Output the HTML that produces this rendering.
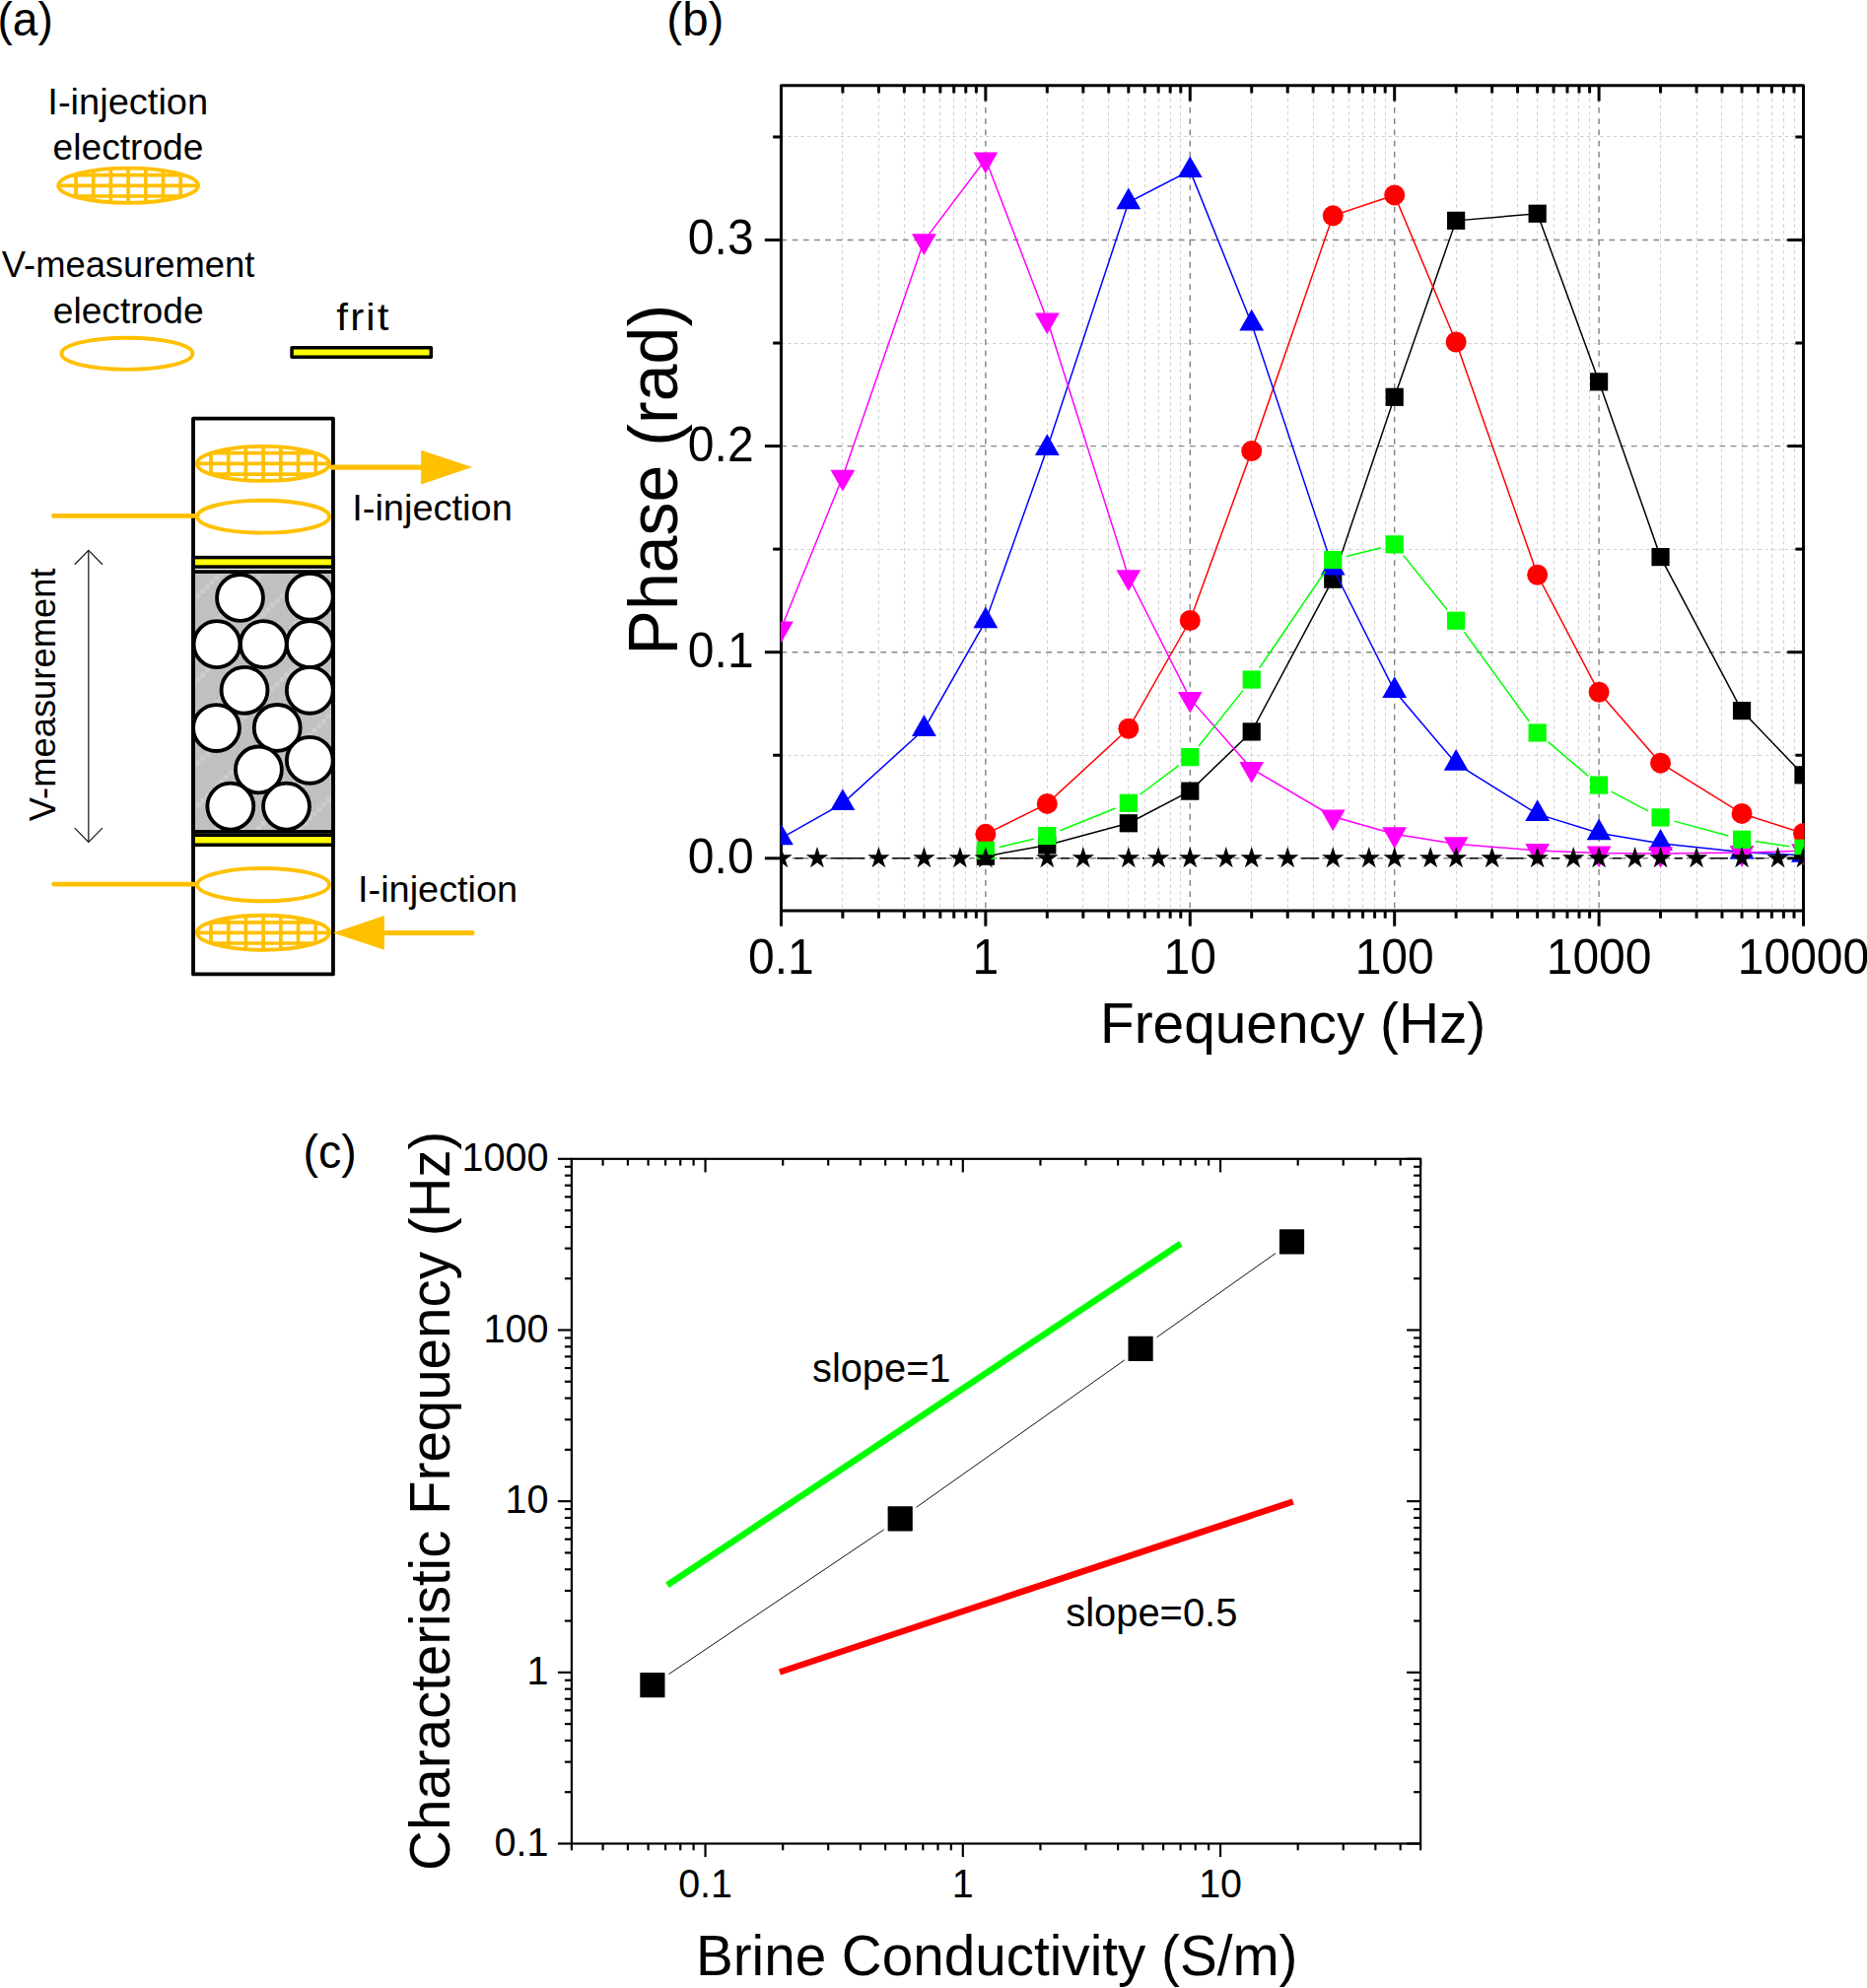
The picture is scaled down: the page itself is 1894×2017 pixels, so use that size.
<!DOCTYPE html>
<html lang="en"><head><meta charset="utf-8"><title>Figure</title>
<style>html,body{margin:0;padding:0;background:#fff}body{width:1894px;height:2017px;overflow:hidden}svg{display:block}</style>
</head><body>
<svg width="1894" height="2017" viewBox="0 0 1894 2017" font-family='"Liberation Sans", Arial, sans-serif'>
<defs>
<pattern id="gp" width="42.4" height="42.4" patternUnits="userSpaceOnUse" x="198.8" y="564.5"><rect width="42.4" height="42.4" fill="#c0c0c0"/><rect x="0" y="37.69" width="4.71" height="4.71" fill="#cdcdcd"/><rect x="4.71" y="32.98" width="4.71" height="4.71" fill="#cdcdcd"/><rect x="9.42" y="28.27" width="4.71" height="4.71" fill="#cdcdcd"/><rect x="14.13" y="23.56" width="4.71" height="4.71" fill="#cdcdcd"/><rect x="18.84" y="18.84" width="4.71" height="4.71" fill="#cdcdcd"/><rect x="23.56" y="14.13" width="4.71" height="4.71" fill="#cdcdcd"/><rect x="28.27" y="9.42" width="4.71" height="4.71" fill="#cdcdcd"/><rect x="32.98" y="4.71" width="4.71" height="4.71" fill="#cdcdcd"/><rect x="37.69" y="0" width="4.71" height="4.71" fill="#cdcdcd"/></pattern>
<clipPath id="cb"><rect x="791.9" y="85.7" width="1038.6" height="839.2"/></clipPath>
</defs>
<rect width="1894" height="2017" fill="#fff"/>
<g id="panel-a">
<text x="-2.58" y="36.4" font-size="47.5" textLength="56.33" lengthAdjust="spacingAndGlyphs" fill="#000">(a)</text>
<text x="48.38" y="116.2" font-size="36" textLength="162.79" lengthAdjust="spacingAndGlyphs" fill="#000">I-injection</text>
<text x="53.62" y="162" font-size="36" textLength="152.81" lengthAdjust="spacingAndGlyphs" fill="#000">electrode</text>
<text x="1.82" y="281.2" font-size="36" textLength="256.5" lengthAdjust="spacingAndGlyphs" fill="#000">V-measurement</text>
<text x="53.72" y="328" font-size="36" textLength="152.91" lengthAdjust="spacingAndGlyphs" fill="#000">electrode</text>
<text x="341.37" y="335" font-size="39" letter-spacing="2" textLength="55.34" lengthAdjust="spacingAndGlyphs" fill="#000">frit</text>
<text x="357.19" y="528.2" font-size="36" textLength="162.59" lengthAdjust="spacingAndGlyphs" fill="#000">I-injection</text>
<text x="363" y="915" font-size="36" textLength="162.17" lengthAdjust="spacingAndGlyphs" fill="#000">I-injection</text>
<text transform="translate(56 833) rotate(-90)" x="-0.18" y="0" font-size="36" textLength="256.7" lengthAdjust="spacingAndGlyphs" fill="#000">V-measurement</text>
<clipPath id="cg0"><ellipse cx="130.15" cy="188.25" rx="70.9" ry="17.6"/></clipPath>
<g clip-path="url(#cg0)" stroke="#ffc000" stroke-width="3.7"><line x1="77" y1="168.65" x2="77" y2="207.85"/><line x1="94.7" y1="168.65" x2="94.7" y2="207.85"/><line x1="112.4" y1="168.65" x2="112.4" y2="207.85"/><line x1="130.1" y1="168.65" x2="130.1" y2="207.85"/><line x1="147.8" y1="168.65" x2="147.8" y2="207.85"/><line x1="165.5" y1="168.65" x2="165.5" y2="207.85"/><line x1="183.2" y1="168.65" x2="183.2" y2="207.85"/><line x1="57.25" y1="177.6" x2="203.05" y2="177.6"/><line x1="57.25" y1="188.3" x2="203.05" y2="188.3"/><line x1="57.25" y1="199" x2="203.05" y2="199"/></g>
<ellipse cx="130.15" cy="188.25" rx="70.9" ry="17.6" fill="none" stroke="#ffc000" stroke-width="3.9"/>
<ellipse cx="128.9" cy="358.8" rx="66.5" ry="16.1" fill="none" stroke="#ffc000" stroke-width="3.9"/>
<rect x="296.05" y="352.65" width="141.3" height="9.6" fill="#ffff00" stroke="#000" stroke-width="3.5" stroke-linejoin="round"/>
<rect x="196.0" y="580.05" width="141.95" height="263.85" fill="url(#gp)" stroke="#000" stroke-width="3.7"/>
<circle cx="243.5" cy="606.4" r="23.45" fill="#fff" stroke="#000" stroke-width="3.85"/>
<circle cx="314.3" cy="605.2" r="23.45" fill="#fff" stroke="#000" stroke-width="3.85"/>
<circle cx="220" cy="653.6" r="23.45" fill="#fff" stroke="#000" stroke-width="3.85"/>
<circle cx="267.3" cy="653.6" r="23.45" fill="#fff" stroke="#000" stroke-width="3.85"/>
<circle cx="314.3" cy="653.6" r="23.45" fill="#fff" stroke="#000" stroke-width="3.85"/>
<circle cx="248" cy="700.3" r="23.45" fill="#fff" stroke="#000" stroke-width="3.85"/>
<circle cx="314.3" cy="700.3" r="23.45" fill="#fff" stroke="#000" stroke-width="3.85"/>
<circle cx="219.5" cy="738.5" r="23.45" fill="#fff" stroke="#000" stroke-width="3.85"/>
<circle cx="281.2" cy="738.4" r="23.45" fill="#fff" stroke="#000" stroke-width="3.85"/>
<circle cx="262.4" cy="780.9" r="23.45" fill="#fff" stroke="#000" stroke-width="3.85"/>
<circle cx="314.3" cy="771.3" r="23.45" fill="#fff" stroke="#000" stroke-width="3.85"/>
<circle cx="233.8" cy="818.1" r="23.45" fill="#fff" stroke="#000" stroke-width="3.85"/>
<circle cx="290.5" cy="818.1" r="23.45" fill="#fff" stroke="#000" stroke-width="3.85"/>
<rect x="196.0" y="565.6" width="141.95" height="9.5" fill="#ffff00" stroke="#000" stroke-width="3.5"/>
<rect x="196.0" y="847.3" width="141.95" height="9.9" fill="#ffff00" stroke="#000" stroke-width="3.5"/>
<rect x="196.0" y="424.6" width="141.95" height="563.85" fill="none" stroke="#000" stroke-width="3.8" stroke-linejoin="round"/>
<clipPath id="cg1"><ellipse cx="267" cy="470.4" rx="67.1" ry="17.5"/></clipPath>
<g clip-path="url(#cg1)" stroke="#ffc000" stroke-width="3.7"><line x1="214" y1="450.9" x2="214" y2="489.9"/><line x1="231.7" y1="450.9" x2="231.7" y2="489.9"/><line x1="249.4" y1="450.9" x2="249.4" y2="489.9"/><line x1="267.1" y1="450.9" x2="267.1" y2="489.9"/><line x1="284.8" y1="450.9" x2="284.8" y2="489.9"/><line x1="302.5" y1="450.9" x2="302.5" y2="489.9"/><line x1="320.2" y1="450.9" x2="320.2" y2="489.9"/><line x1="197.9" y1="459.7" x2="336.1" y2="459.7"/><line x1="197.9" y1="470.4" x2="336.1" y2="470.4"/><line x1="197.9" y1="481.1" x2="336.1" y2="481.1"/></g>
<ellipse cx="267" cy="470.4" rx="67.1" ry="17.5" fill="none" stroke="#ffc000" stroke-width="3.9"/>
<ellipse cx="267.1" cy="524.15" rx="67" ry="16.45" fill="none" stroke="#ffc000" stroke-width="3.9"/>
<ellipse cx="267.1" cy="897.6" rx="67" ry="16.65" fill="none" stroke="#ffc000" stroke-width="3.9"/>
<clipPath id="cg2"><ellipse cx="267" cy="946.3" rx="67.1" ry="17.5"/></clipPath>
<g clip-path="url(#cg2)" stroke="#ffc000" stroke-width="3.7"><line x1="214" y1="926.8" x2="214" y2="965.8"/><line x1="231.7" y1="926.8" x2="231.7" y2="965.8"/><line x1="249.4" y1="926.8" x2="249.4" y2="965.8"/><line x1="267.1" y1="926.8" x2="267.1" y2="965.8"/><line x1="284.8" y1="926.8" x2="284.8" y2="965.8"/><line x1="302.5" y1="926.8" x2="302.5" y2="965.8"/><line x1="320.2" y1="926.8" x2="320.2" y2="965.8"/><line x1="197.9" y1="935.8" x2="336.1" y2="935.8"/><line x1="197.9" y1="946.3" x2="336.1" y2="946.3"/><line x1="197.9" y1="957" x2="336.1" y2="957"/></g>
<ellipse cx="267" cy="946.3" rx="67.1" ry="17.5" fill="none" stroke="#ffc000" stroke-width="3.9"/>
<line x1="54.5" y1="523.4" x2="200" y2="523.4" stroke="#ffc000" stroke-width="4.8" stroke-linecap="round"/>
<line x1="54.5" y1="897.1" x2="200" y2="897.1" stroke="#ffc000" stroke-width="4.8" stroke-linecap="round"/>
<line x1="337" y1="474.1" x2="430" y2="474.1" stroke="#ffc000" stroke-width="5.1" stroke-linecap="round"/>
<polygon points="427.1,456.7 479.1,474.1 427.1,491.4" fill="#ffc000"/>
<line x1="388" y1="946.5" x2="479" y2="946.5" stroke="#ffc000" stroke-width="5.1" stroke-linecap="round"/>
<polygon points="389.9,929.1 337.9,946.4 389.9,963.7" fill="#ffc000"/>
<g stroke="#1a1a1a" stroke-width="1.25" fill="none"><line x1="89.8" y1="558.6" x2="89.8" y2="854.2"/><polyline points="75.8,572.7 89.8,558.4 103.9,572.7"/><polyline points="75.8,840.1 89.8,854.4 103.9,840.1"/></g>
</g>
<g id="panel-b">
<text x="676.33" y="36.4" font-size="47.5" textLength="58" lengthAdjust="spacingAndGlyphs" fill="#000">(b)</text>
<g fill="none" stroke="#d0d0d0" stroke-width="1" stroke-dasharray="3.4 3.3"><line x1="854.5" y1="86.67" x2="854.5" y2="923.9"/><line x1="891.5" y1="86.67" x2="891.5" y2="923.9"/><line x1="917.5" y1="86.67" x2="917.5" y2="923.9"/><line x1="937.5" y1="86.67" x2="937.5" y2="923.9"/><line x1="953.5" y1="86.67" x2="953.5" y2="923.9"/><line x1="967.5" y1="86.67" x2="967.5" y2="923.9"/><line x1="979.5" y1="86.67" x2="979.5" y2="923.9"/><line x1="990.5" y1="86.67" x2="990.5" y2="923.9"/><line x1="1062.5" y1="86.67" x2="1062.5" y2="923.9"/><line x1="1098.5" y1="86.67" x2="1098.5" y2="923.9"/><line x1="1124.5" y1="86.67" x2="1124.5" y2="923.9"/><line x1="1144.5" y1="86.67" x2="1144.5" y2="923.9"/><line x1="1161.5" y1="86.67" x2="1161.5" y2="923.9"/><line x1="1175.5" y1="86.67" x2="1175.5" y2="923.9"/><line x1="1187.5" y1="86.67" x2="1187.5" y2="923.9"/><line x1="1197.5" y1="86.67" x2="1197.5" y2="923.9"/><line x1="1269.5" y1="86.67" x2="1269.5" y2="923.9"/><line x1="1306.5" y1="86.67" x2="1306.5" y2="923.9"/><line x1="1332.5" y1="86.67" x2="1332.5" y2="923.9"/><line x1="1352.5" y1="86.67" x2="1352.5" y2="923.9"/><line x1="1368.5" y1="86.67" x2="1368.5" y2="923.9"/><line x1="1382.5" y1="86.67" x2="1382.5" y2="923.9"/><line x1="1394.5" y1="86.67" x2="1394.5" y2="923.9"/><line x1="1405.5" y1="86.67" x2="1405.5" y2="923.9"/><line x1="1477.5" y1="86.67" x2="1477.5" y2="923.9"/><line x1="1513.5" y1="86.67" x2="1513.5" y2="923.9"/><line x1="1539.5" y1="86.67" x2="1539.5" y2="923.9"/><line x1="1559.5" y1="86.67" x2="1559.5" y2="923.9"/><line x1="1576.5" y1="86.67" x2="1576.5" y2="923.9"/><line x1="1589.5" y1="86.67" x2="1589.5" y2="923.9"/><line x1="1601.5" y1="86.67" x2="1601.5" y2="923.9"/><line x1="1612.5" y1="86.67" x2="1612.5" y2="923.9"/><line x1="1684.5" y1="86.67" x2="1684.5" y2="923.9"/><line x1="1721.5" y1="86.67" x2="1721.5" y2="923.9"/><line x1="1746.5" y1="86.67" x2="1746.5" y2="923.9"/><line x1="1767.5" y1="86.67" x2="1767.5" y2="923.9"/><line x1="1783.5" y1="86.67" x2="1783.5" y2="923.9"/><line x1="1797.5" y1="86.67" x2="1797.5" y2="923.9"/><line x1="1809.5" y1="86.67" x2="1809.5" y2="923.9"/><line x1="1820.5" y1="86.67" x2="1820.5" y2="923.9"/><line x1="792.45" y1="138.5" x2="1829.5" y2="138.5"/><line x1="792.45" y1="348.5" x2="1829.5" y2="348.5"/><line x1="792.45" y1="557.5" x2="1829.5" y2="557.5"/><line x1="792.45" y1="766.5" x2="1829.5" y2="766.5"/></g>
<g fill="none" stroke="#868686" stroke-width="1.45" stroke-dasharray="5.8 5.4"><line x1="999.86" y1="86.67" x2="999.86" y2="923.9"/><line x1="1207.27" y1="86.67" x2="1207.27" y2="923.9"/><line x1="1414.68" y1="86.67" x2="1414.68" y2="923.9"/><line x1="1622.09" y1="86.67" x2="1622.09" y2="923.9"/><line x1="792.45" y1="243.5" x2="1829.5" y2="243.5"/><line x1="792.45" y1="452.6" x2="1829.5" y2="452.6"/><line x1="792.45" y1="661.7" x2="1829.5" y2="661.7"/><line x1="792.45" y1="870.8" x2="1829.5" y2="870.8"/></g>
<rect x="792.45" y="86.67" width="1037.05" height="837.23" fill="none" stroke="#000" stroke-width="3" stroke-linejoin="round"/>
<g clip-path="url(#cb)">
<polyline points="999.86,868.71 1062.3,857.42 1144.83,835.25 1207.27,802.63 1269.71,742.41 1352.24,587.68 1414.68,402.83 1477.12,223.84 1559.65,216.74 1622.09,387.36 1684.53,565.1 1767.06,721.08 1829.5,786.32" fill="none" stroke="#000000" stroke-width="1.5"/>
<rect x="990.76" y="859.61" width="18.2" height="18.2" fill="#000000"/><rect x="1053.2" y="848.32" width="18.2" height="18.2" fill="#000000"/><rect x="1135.73" y="826.15" width="18.2" height="18.2" fill="#000000"/><rect x="1198.17" y="793.53" width="18.2" height="18.2" fill="#000000"/><rect x="1260.61" y="733.31" width="18.2" height="18.2" fill="#000000"/><rect x="1343.14" y="578.58" width="18.2" height="18.2" fill="#000000"/><rect x="1405.58" y="393.73" width="18.2" height="18.2" fill="#000000"/><rect x="1468.02" y="214.74" width="18.2" height="18.2" fill="#000000"/><rect x="1550.55" y="207.64" width="18.2" height="18.2" fill="#000000"/><rect x="1612.99" y="378.26" width="18.2" height="18.2" fill="#000000"/><rect x="1675.43" y="556" width="18.2" height="18.2" fill="#000000"/><rect x="1757.96" y="711.98" width="18.2" height="18.2" fill="#000000"/><rect x="1820.4" y="777.22" width="18.2" height="18.2" fill="#000000"/>
<polyline points="999.86,846.34 1062.3,815.39 1144.83,739.28 1207.27,629.5 1269.71,457.62 1352.24,218.83 1414.68,197.92 1477.12,347 1559.65,583.29 1622.09,702.27 1684.53,774.2 1767.06,825.43 1829.5,845.5" fill="none" stroke="#ff0000" stroke-width="1.5"/>
<circle cx="999.86" cy="846.34" r="10.5" fill="#ff0000"/><circle cx="1062.3" cy="815.39" r="10.5" fill="#ff0000"/><circle cx="1144.83" cy="739.28" r="10.5" fill="#ff0000"/><circle cx="1207.27" cy="629.5" r="10.5" fill="#ff0000"/><circle cx="1269.71" cy="457.62" r="10.5" fill="#ff0000"/><circle cx="1352.24" cy="218.83" r="10.5" fill="#ff0000"/><circle cx="1414.68" cy="197.92" r="10.5" fill="#ff0000"/><circle cx="1477.12" cy="347" r="10.5" fill="#ff0000"/><circle cx="1559.65" cy="583.29" r="10.5" fill="#ff0000"/><circle cx="1622.09" cy="702.27" r="10.5" fill="#ff0000"/><circle cx="1684.53" cy="774.2" r="10.5" fill="#ff0000"/><circle cx="1767.06" cy="825.43" r="10.5" fill="#ff0000"/><circle cx="1829.5" cy="845.5" r="10.5" fill="#ff0000"/>
<polyline points="792.45,850.4 854.89,815.06 937.42,739.99 999.86,630.21 1062.3,454.99 1144.83,205.32 1207.27,173.12 1269.71,328.48 1352.24,576.47 1414.68,701.1 1477.12,774.7 1559.65,825.93 1622.09,845.17 1684.53,855.83 1767.06,864.61 1829.5,867.75" fill="none" stroke="#0000ff" stroke-width="1.5"/>
<polygon points="780.05,857.36 804.85,857.36 792.45,835.66" fill="#0000ff"/><polygon points="842.49,822.02 867.29,822.02 854.89,800.32" fill="#0000ff"/><polygon points="925.02,746.96 949.82,746.96 937.42,725.26" fill="#0000ff"/><polygon points="987.46,637.18 1012.26,637.18 999.86,615.48" fill="#0000ff"/><polygon points="1049.9,461.95 1074.7,461.95 1062.3,440.25" fill="#0000ff"/><polygon points="1132.43,212.29 1157.23,212.29 1144.83,190.59" fill="#0000ff"/><polygon points="1194.87,180.09 1219.67,180.09 1207.27,158.39" fill="#0000ff"/><polygon points="1257.31,335.45 1282.11,335.45 1269.71,313.75" fill="#0000ff"/><polygon points="1339.84,583.44 1364.64,583.44 1352.24,561.74" fill="#0000ff"/><polygon points="1402.28,708.07 1427.08,708.07 1414.68,686.37" fill="#0000ff"/><polygon points="1464.72,781.67 1489.52,781.67 1477.12,759.97" fill="#0000ff"/><polygon points="1547.25,832.9 1572.05,832.9 1559.65,811.2" fill="#0000ff"/><polygon points="1609.69,852.14 1634.49,852.14 1622.09,830.44" fill="#0000ff"/><polygon points="1672.13,862.8 1696.93,862.8 1684.53,841.1" fill="#0000ff"/><polygon points="1754.66,871.58 1779.46,871.58 1767.06,849.88" fill="#0000ff"/><polygon points="1817.1,874.72 1841.9,874.72 1829.5,853.02" fill="#0000ff"/>
<polyline points="792.45,637.57 854.89,483.67 937.42,244.25 999.86,161.45 1062.3,324.54 1144.83,585.29 1207.27,708.87 1269.71,779.96 1352.24,828.47 1414.68,846.25 1477.12,856.28 1559.65,862.98 1622.09,865.48 1684.53,866.11 1767.06,865.07 1829.5,863.18" fill="none" stroke="#ff00ff" stroke-width="1.5"/>
<polygon points="780.05,630.6 804.85,630.6 792.45,652.3" fill="#ff00ff"/><polygon points="842.49,476.7 867.29,476.7 854.89,498.4" fill="#ff00ff"/><polygon points="925.02,237.28 949.82,237.28 937.42,258.98" fill="#ff00ff"/><polygon points="987.46,154.48 1012.26,154.48 999.86,176.18" fill="#ff00ff"/><polygon points="1049.9,317.58 1074.7,317.58 1062.3,339.28" fill="#ff00ff"/><polygon points="1132.43,578.32 1157.23,578.32 1144.83,600.02" fill="#ff00ff"/><polygon points="1194.87,701.9 1219.67,701.9 1207.27,723.6" fill="#ff00ff"/><polygon points="1257.31,773 1282.11,773 1269.71,794.7" fill="#ff00ff"/><polygon points="1339.84,821.51 1364.64,821.51 1352.24,843.21" fill="#ff00ff"/><polygon points="1402.28,839.28 1427.08,839.28 1414.68,860.98" fill="#ff00ff"/><polygon points="1464.72,849.32 1489.52,849.32 1477.12,871.02" fill="#ff00ff"/><polygon points="1547.25,856.01 1572.05,856.01 1559.65,877.71" fill="#ff00ff"/><polygon points="1609.69,858.52 1634.49,858.52 1622.09,880.22" fill="#ff00ff"/><polygon points="1672.13,859.15 1696.93,859.15 1684.53,880.85" fill="#ff00ff"/><polygon points="1754.66,858.1 1779.46,858.1 1767.06,879.8" fill="#ff00ff"/><polygon points="1817.1,856.22 1841.9,856.22 1829.5,877.92" fill="#ff00ff"/>
<path d="M1013.67 859.57L1048.48 851.29M1075.47 842.7L1131.66 820.07M1156.21 806.26L1195.89 776.63M1216.1 757.01L1260.88 700.63M1277.69 677.76L1344.26 579.77M1366.02 564.56L1400.91 555.8M1423.6 563.39L1468.2 618.66M1485.46 641.2L1551.31 731.96M1570.47 752.66L1611.27 787.37M1634.66 803.18L1671.96 822.79M1698.23 833.11L1753.36 848.06M1781.12 853.8L1815.44 858.74" fill="none" stroke="#00ff00" stroke-width="1.5"/>
<rect x="990.76" y="853.75" width="18.2" height="18.2" fill="#00ff00"/><rect x="1053.2" y="838.91" width="18.2" height="18.2" fill="#00ff00"/><rect x="1135.73" y="805.66" width="18.2" height="18.2" fill="#00ff00"/><rect x="1198.17" y="759.03" width="18.2" height="18.2" fill="#00ff00"/><rect x="1260.61" y="680.41" width="18.2" height="18.2" fill="#00ff00"/><rect x="1343.14" y="558.92" width="18.2" height="18.2" fill="#00ff00"/><rect x="1405.58" y="543.24" width="18.2" height="18.2" fill="#00ff00"/><rect x="1468.02" y="620.61" width="18.2" height="18.2" fill="#00ff00"/><rect x="1550.55" y="734.36" width="18.2" height="18.2" fill="#00ff00"/><rect x="1612.99" y="787.47" width="18.2" height="18.2" fill="#00ff00"/><rect x="1675.43" y="820.3" width="18.2" height="18.2" fill="#00ff00"/><rect x="1757.96" y="842.67" width="18.2" height="18.2" fill="#00ff00"/><rect x="1820.4" y="851.66" width="18.2" height="18.2" fill="#00ff00"/>
<path d="M806.45 870.8L814.97 870.8M842.97 870.8L877.41 870.8M905.41 870.8L923.42 870.8M951.42 870.8L959.95 870.8M1013.86 870.8L1048.3 870.8M1076.3 870.8L1084.82 870.8M1112.82 870.8L1130.83 870.8M1158.83 870.8L1161.14 870.8M1189.14 870.8L1193.27 870.8M1221.27 870.8L1229.79 870.8M1283.71 870.8L1292.23 870.8M1320.23 870.8L1338.24 870.8M1366.24 870.8L1374.77 870.8M1428.68 870.8L1437.2 870.8M1491.12 870.8L1499.64 870.8M1527.64 870.8L1545.65 870.8M1573.65 870.8L1582.18 870.8M1636.09 870.8L1644.61 870.8M1698.53 870.8L1707.05 870.8M1735.05 870.8L1753.06 870.8M1781.06 870.8L1789.59 870.8" fill="none" stroke="#000" stroke-width="1.5"/>
<polygon points="792.45,859 795.1,867.15 803.67,867.15 796.74,872.19 799.39,880.35 792.45,875.31 785.51,880.35 788.16,872.19 781.23,867.15 789.8,867.15" fill="#000"/><polygon points="828.97,859 831.62,867.15 840.2,867.15 833.26,872.19 835.91,880.35 828.97,875.31 822.04,880.35 824.69,872.19 817.75,867.15 826.32,867.15" fill="#000"/><polygon points="891.41,859 894.06,867.15 902.63,867.15 895.7,872.19 898.35,880.35 891.41,875.31 884.47,880.35 887.12,872.19 880.19,867.15 888.76,867.15" fill="#000"/><polygon points="937.42,859 940.07,867.15 948.65,867.15 941.71,872.19 944.36,880.35 937.42,875.31 930.49,880.35 933.14,872.19 926.2,867.15 934.77,867.15" fill="#000"/><polygon points="973.95,859 976.6,867.15 985.17,867.15 978.23,872.19 980.88,880.35 973.95,875.31 967.01,880.35 969.66,872.19 962.72,867.15 971.3,867.15" fill="#000"/><polygon points="999.86,859 1002.51,867.15 1011.08,867.15 1004.15,872.19 1006.8,880.35 999.86,875.31 992.92,880.35 995.57,872.19 988.64,867.15 997.21,867.15" fill="#000"/><polygon points="1062.3,859 1064.95,867.15 1073.52,867.15 1066.58,872.19 1069.23,880.35 1062.3,875.31 1055.36,880.35 1058.01,872.19 1051.07,867.15 1059.65,867.15" fill="#000"/><polygon points="1098.82,859 1101.47,867.15 1110.04,867.15 1103.11,872.19 1105.76,880.35 1098.82,875.31 1091.88,880.35 1094.53,872.19 1087.6,867.15 1096.17,867.15" fill="#000"/><polygon points="1144.83,859 1147.48,867.15 1156.06,867.15 1149.12,872.19 1151.77,880.35 1144.83,875.31 1137.9,880.35 1140.55,872.19 1133.61,867.15 1142.18,867.15" fill="#000"/><polygon points="1175.14,859 1177.79,867.15 1186.36,867.15 1179.43,872.19 1182.08,880.35 1175.14,875.31 1168.21,880.35 1170.85,872.19 1163.92,867.15 1172.49,867.15" fill="#000"/><polygon points="1207.27,859 1209.92,867.15 1218.49,867.15 1211.56,872.19 1214.21,880.35 1207.27,875.31 1200.33,880.35 1202.98,872.19 1196.05,867.15 1204.62,867.15" fill="#000"/><polygon points="1243.79,859 1246.44,867.15 1255.02,867.15 1248.08,872.19 1250.73,880.35 1243.79,875.31 1236.86,880.35 1239.51,872.19 1232.57,867.15 1241.14,867.15" fill="#000"/><polygon points="1269.71,859 1272.36,867.15 1280.93,867.15 1273.99,872.19 1276.64,880.35 1269.71,875.31 1262.77,880.35 1265.42,872.19 1258.48,867.15 1267.06,867.15" fill="#000"/><polygon points="1306.23,859 1308.88,867.15 1317.45,867.15 1310.52,872.19 1313.17,880.35 1306.23,875.31 1299.29,880.35 1301.94,872.19 1295.01,867.15 1303.58,867.15" fill="#000"/><polygon points="1352.24,859 1354.89,867.15 1363.47,867.15 1356.53,872.19 1359.18,880.35 1352.24,875.31 1345.31,880.35 1347.96,872.19 1341.02,867.15 1349.59,867.15" fill="#000"/><polygon points="1388.77,859 1391.42,867.15 1399.99,867.15 1393.05,872.19 1395.7,880.35 1388.77,875.31 1381.83,880.35 1384.48,872.19 1377.54,867.15 1386.12,867.15" fill="#000"/><polygon points="1414.68,859 1417.33,867.15 1425.9,867.15 1418.97,872.19 1421.62,880.35 1414.68,875.31 1407.74,880.35 1410.39,872.19 1403.46,867.15 1412.03,867.15" fill="#000"/><polygon points="1451.2,859 1453.85,867.15 1462.43,867.15 1455.49,872.19 1458.14,880.35 1451.2,875.31 1444.27,880.35 1446.92,872.19 1439.98,867.15 1448.55,867.15" fill="#000"/><polygon points="1477.12,859 1479.77,867.15 1488.34,867.15 1481.4,872.19 1484.05,880.35 1477.12,875.31 1470.18,880.35 1472.83,872.19 1465.89,867.15 1474.47,867.15" fill="#000"/><polygon points="1513.64,859 1516.29,867.15 1524.86,867.15 1517.93,872.19 1520.58,880.35 1513.64,875.31 1506.7,880.35 1509.35,872.19 1502.42,867.15 1510.99,867.15" fill="#000"/><polygon points="1559.65,859 1562.3,867.15 1570.88,867.15 1563.94,872.19 1566.59,880.35 1559.65,875.31 1552.72,880.35 1555.37,872.19 1548.43,867.15 1557,867.15" fill="#000"/><polygon points="1596.18,859 1598.83,867.15 1607.4,867.15 1600.46,872.19 1603.11,880.35 1596.18,875.31 1589.24,880.35 1591.89,872.19 1584.95,867.15 1593.53,867.15" fill="#000"/><polygon points="1622.09,859 1624.74,867.15 1633.31,867.15 1626.38,872.19 1629.03,880.35 1622.09,875.31 1615.15,880.35 1617.8,872.19 1610.87,867.15 1619.44,867.15" fill="#000"/><polygon points="1658.61,859 1661.26,867.15 1669.84,867.15 1662.9,872.19 1665.55,880.35 1658.61,875.31 1651.68,880.35 1654.33,872.19 1647.39,867.15 1655.96,867.15" fill="#000"/><polygon points="1684.53,859 1687.18,867.15 1695.75,867.15 1688.81,872.19 1691.46,880.35 1684.53,875.31 1677.59,880.35 1680.24,872.19 1673.3,867.15 1681.88,867.15" fill="#000"/><polygon points="1721.05,859 1723.7,867.15 1732.27,867.15 1725.34,872.19 1727.99,880.35 1721.05,875.31 1714.11,880.35 1716.76,872.19 1709.83,867.15 1718.4,867.15" fill="#000"/><polygon points="1767.06,859 1769.71,867.15 1778.29,867.15 1771.35,872.19 1774,880.35 1767.06,875.31 1760.13,880.35 1762.78,872.19 1755.84,867.15 1764.41,867.15" fill="#000"/><polygon points="1803.59,859 1806.24,867.15 1814.81,867.15 1807.87,872.19 1810.52,880.35 1803.59,875.31 1796.65,880.35 1799.3,872.19 1792.36,867.15 1800.94,867.15" fill="#000"/><polygon points="1829.5,859 1832.15,867.15 1840.72,867.15 1833.79,872.19 1836.44,880.35 1829.5,875.31 1822.56,880.35 1825.21,872.19 1818.28,867.15 1826.85,867.15" fill="#000"/>
</g>
<g stroke="#000" stroke-width="3"><line x1="792.45" y1="923.9" x2="792.45" y2="939.7"/><line x1="854.89" y1="923.9" x2="854.89" y2="931.7"/><line x1="854.89" y1="86.67" x2="854.89" y2="94.47"/><line x1="891.41" y1="923.9" x2="891.41" y2="931.7"/><line x1="891.41" y1="86.67" x2="891.41" y2="94.47"/><line x1="917.32" y1="923.9" x2="917.32" y2="931.7"/><line x1="917.32" y1="86.67" x2="917.32" y2="94.47"/><line x1="937.42" y1="923.9" x2="937.42" y2="931.7"/><line x1="937.42" y1="86.67" x2="937.42" y2="94.47"/><line x1="953.85" y1="923.9" x2="953.85" y2="931.7"/><line x1="953.85" y1="86.67" x2="953.85" y2="94.47"/><line x1="967.73" y1="923.9" x2="967.73" y2="931.7"/><line x1="967.73" y1="86.67" x2="967.73" y2="94.47"/><line x1="979.76" y1="923.9" x2="979.76" y2="931.7"/><line x1="979.76" y1="86.67" x2="979.76" y2="94.47"/><line x1="990.37" y1="923.9" x2="990.37" y2="931.7"/><line x1="990.37" y1="86.67" x2="990.37" y2="94.47"/><line x1="999.86" y1="923.9" x2="999.86" y2="939.7"/><line x1="999.86" y1="86.67" x2="999.86" y2="102.47"/><line x1="1062.3" y1="923.9" x2="1062.3" y2="931.7"/><line x1="1062.3" y1="86.67" x2="1062.3" y2="94.47"/><line x1="1098.82" y1="923.9" x2="1098.82" y2="931.7"/><line x1="1098.82" y1="86.67" x2="1098.82" y2="94.47"/><line x1="1124.73" y1="923.9" x2="1124.73" y2="931.7"/><line x1="1124.73" y1="86.67" x2="1124.73" y2="94.47"/><line x1="1144.83" y1="923.9" x2="1144.83" y2="931.7"/><line x1="1144.83" y1="86.67" x2="1144.83" y2="94.47"/><line x1="1161.26" y1="923.9" x2="1161.26" y2="931.7"/><line x1="1161.26" y1="86.67" x2="1161.26" y2="94.47"/><line x1="1175.14" y1="923.9" x2="1175.14" y2="931.7"/><line x1="1175.14" y1="86.67" x2="1175.14" y2="94.47"/><line x1="1187.17" y1="923.9" x2="1187.17" y2="931.7"/><line x1="1187.17" y1="86.67" x2="1187.17" y2="94.47"/><line x1="1197.78" y1="923.9" x2="1197.78" y2="931.7"/><line x1="1197.78" y1="86.67" x2="1197.78" y2="94.47"/><line x1="1207.27" y1="923.9" x2="1207.27" y2="939.7"/><line x1="1207.27" y1="86.67" x2="1207.27" y2="102.47"/><line x1="1269.71" y1="923.9" x2="1269.71" y2="931.7"/><line x1="1269.71" y1="86.67" x2="1269.71" y2="94.47"/><line x1="1306.23" y1="923.9" x2="1306.23" y2="931.7"/><line x1="1306.23" y1="86.67" x2="1306.23" y2="94.47"/><line x1="1332.14" y1="923.9" x2="1332.14" y2="931.7"/><line x1="1332.14" y1="86.67" x2="1332.14" y2="94.47"/><line x1="1352.24" y1="923.9" x2="1352.24" y2="931.7"/><line x1="1352.24" y1="86.67" x2="1352.24" y2="94.47"/><line x1="1368.67" y1="923.9" x2="1368.67" y2="931.7"/><line x1="1368.67" y1="86.67" x2="1368.67" y2="94.47"/><line x1="1382.55" y1="923.9" x2="1382.55" y2="931.7"/><line x1="1382.55" y1="86.67" x2="1382.55" y2="94.47"/><line x1="1394.58" y1="923.9" x2="1394.58" y2="931.7"/><line x1="1394.58" y1="86.67" x2="1394.58" y2="94.47"/><line x1="1405.19" y1="923.9" x2="1405.19" y2="931.7"/><line x1="1405.19" y1="86.67" x2="1405.19" y2="94.47"/><line x1="1414.68" y1="923.9" x2="1414.68" y2="939.7"/><line x1="1414.68" y1="86.67" x2="1414.68" y2="102.47"/><line x1="1477.12" y1="923.9" x2="1477.12" y2="931.7"/><line x1="1477.12" y1="86.67" x2="1477.12" y2="94.47"/><line x1="1513.64" y1="923.9" x2="1513.64" y2="931.7"/><line x1="1513.64" y1="86.67" x2="1513.64" y2="94.47"/><line x1="1539.55" y1="923.9" x2="1539.55" y2="931.7"/><line x1="1539.55" y1="86.67" x2="1539.55" y2="94.47"/><line x1="1559.65" y1="923.9" x2="1559.65" y2="931.7"/><line x1="1559.65" y1="86.67" x2="1559.65" y2="94.47"/><line x1="1576.08" y1="923.9" x2="1576.08" y2="931.7"/><line x1="1576.08" y1="86.67" x2="1576.08" y2="94.47"/><line x1="1589.96" y1="923.9" x2="1589.96" y2="931.7"/><line x1="1589.96" y1="86.67" x2="1589.96" y2="94.47"/><line x1="1601.99" y1="923.9" x2="1601.99" y2="931.7"/><line x1="1601.99" y1="86.67" x2="1601.99" y2="94.47"/><line x1="1612.6" y1="923.9" x2="1612.6" y2="931.7"/><line x1="1612.6" y1="86.67" x2="1612.6" y2="94.47"/><line x1="1622.09" y1="923.9" x2="1622.09" y2="939.7"/><line x1="1622.09" y1="86.67" x2="1622.09" y2="102.47"/><line x1="1684.53" y1="923.9" x2="1684.53" y2="931.7"/><line x1="1684.53" y1="86.67" x2="1684.53" y2="94.47"/><line x1="1721.05" y1="923.9" x2="1721.05" y2="931.7"/><line x1="1721.05" y1="86.67" x2="1721.05" y2="94.47"/><line x1="1746.96" y1="923.9" x2="1746.96" y2="931.7"/><line x1="1746.96" y1="86.67" x2="1746.96" y2="94.47"/><line x1="1767.06" y1="923.9" x2="1767.06" y2="931.7"/><line x1="1767.06" y1="86.67" x2="1767.06" y2="94.47"/><line x1="1783.49" y1="923.9" x2="1783.49" y2="931.7"/><line x1="1783.49" y1="86.67" x2="1783.49" y2="94.47"/><line x1="1797.37" y1="923.9" x2="1797.37" y2="931.7"/><line x1="1797.37" y1="86.67" x2="1797.37" y2="94.47"/><line x1="1809.4" y1="923.9" x2="1809.4" y2="931.7"/><line x1="1809.4" y1="86.67" x2="1809.4" y2="94.47"/><line x1="1820.01" y1="923.9" x2="1820.01" y2="931.7"/><line x1="1820.01" y1="86.67" x2="1820.01" y2="94.47"/><line x1="1829.5" y1="923.9" x2="1829.5" y2="939.7"/><line x1="775.85" y1="870.8" x2="792.45" y2="870.8"/><line x1="1813.3" y1="870.8" x2="1829.5" y2="870.8"/><line x1="775.85" y1="661.7" x2="792.45" y2="661.7"/><line x1="1813.3" y1="661.7" x2="1829.5" y2="661.7"/><line x1="775.85" y1="452.6" x2="792.45" y2="452.6"/><line x1="1813.3" y1="452.6" x2="1829.5" y2="452.6"/><line x1="775.85" y1="243.5" x2="792.45" y2="243.5"/><line x1="1813.3" y1="243.5" x2="1829.5" y2="243.5"/><line x1="784.15" y1="766.25" x2="792.45" y2="766.25"/><line x1="1821.4" y1="766.25" x2="1829.5" y2="766.25"/><line x1="784.15" y1="557.15" x2="792.45" y2="557.15"/><line x1="1821.4" y1="557.15" x2="1829.5" y2="557.15"/><line x1="784.15" y1="348.05" x2="792.45" y2="348.05"/><line x1="1821.4" y1="348.05" x2="1829.5" y2="348.05"/><line x1="784.15" y1="138.95" x2="792.45" y2="138.95"/><line x1="1821.4" y1="138.95" x2="1829.5" y2="138.95"/></g>
<text x="697.87" y="885.7" font-size="49.95" textLength="66.73" lengthAdjust="spacingAndGlyphs">0.0</text>
<text x="697.87" y="676.6" font-size="49.95" textLength="66.73" lengthAdjust="spacingAndGlyphs">0.1</text>
<text x="697.87" y="467.5" font-size="49.95" textLength="66.73" lengthAdjust="spacingAndGlyphs">0.2</text>
<text x="697.87" y="258.4" font-size="49.95" textLength="66.73" lengthAdjust="spacingAndGlyphs">0.3</text>
<text x="759.09" y="988.4" font-size="49.95" textLength="66.73" lengthAdjust="spacingAndGlyphs">0.1</text>
<text x="986.51" y="988.4" font-size="49.95" textLength="26.7" lengthAdjust="spacingAndGlyphs">1</text>
<text x="1180.57" y="988.4" font-size="49.95" textLength="53.39" lengthAdjust="spacingAndGlyphs">10</text>
<text x="1374.64" y="988.4" font-size="49.95" textLength="80.09" lengthAdjust="spacingAndGlyphs">100</text>
<text x="1568.7" y="988.4" font-size="49.95" textLength="106.78" lengthAdjust="spacingAndGlyphs">1000</text>
<text x="1762.76" y="988.4" font-size="49.95" textLength="133.48" lengthAdjust="spacingAndGlyphs">10000</text>
<text x="1116.02" y="1057.9" font-size="57.8" textLength="391.24" lengthAdjust="spacingAndGlyphs" fill="#000">Frequency (Hz)</text>
<text transform="translate(687 658.9) rotate(-90)" x="-5.61" y="0" font-size="71.2" textLength="355.58" lengthAdjust="spacingAndGlyphs" fill="#000">Phase (rad)</text>
</g>
<g id="panel-c">
<text x="307.59" y="1185" font-size="47.5" textLength="54.25" lengthAdjust="spacingAndGlyphs" fill="#000">(c)</text>
<line x1="676.9" y1="1608.2" x2="1197.85" y2="1261.8" stroke="#00ff00" stroke-width="6.5"/>
<line x1="790.95" y1="1696.5" x2="1311.8" y2="1523.5" stroke="#ff0000" stroke-width="6.5"/>
<path d="M678.5 1698.54L896.6 1551.96M929.53 1529.26L1140.77 1379.94M1173.43 1356.85L1294.17 1271.45" fill="none" stroke="#111" stroke-width="1"/>
<rect x="649.3" y="1697.1" width="25.2" height="25.2" rx="0.6" fill="#000"/>
<rect x="900.6" y="1528.2" width="25.2" height="25.2" rx="0.6" fill="#000"/>
<rect x="1144.5" y="1355.8" width="25.2" height="25.2" rx="0.6" fill="#000"/>
<rect x="1297.9" y="1247.3" width="25.2" height="25.2" rx="0.6" fill="#000"/>
<rect x="579.9" y="1175.8" width="861.2" height="694.7" fill="none" stroke="#000" stroke-width="2.2"/>
<g stroke="#000" stroke-width="2.2"><line x1="579.9" y1="1870.5" x2="579.9" y2="1877.3"/><line x1="579.9" y1="1175.8" x2="579.9" y2="1182.6"/><line x1="611.59" y1="1870.5" x2="611.59" y2="1877.3"/><line x1="611.59" y1="1175.8" x2="611.59" y2="1182.6"/><line x1="636.91" y1="1870.5" x2="636.91" y2="1877.3"/><line x1="636.91" y1="1175.8" x2="636.91" y2="1182.6"/><line x1="657.59" y1="1870.5" x2="657.59" y2="1877.3"/><line x1="657.59" y1="1175.8" x2="657.59" y2="1182.6"/><line x1="675.08" y1="1870.5" x2="675.08" y2="1877.3"/><line x1="675.08" y1="1175.8" x2="675.08" y2="1182.6"/><line x1="690.23" y1="1870.5" x2="690.23" y2="1877.3"/><line x1="690.23" y1="1175.8" x2="690.23" y2="1182.6"/><line x1="703.6" y1="1870.5" x2="703.6" y2="1877.3"/><line x1="703.6" y1="1175.8" x2="703.6" y2="1182.6"/><line x1="715.55" y1="1870.5" x2="715.55" y2="1884.1"/><line x1="715.55" y1="1175.8" x2="715.55" y2="1189.4"/><line x1="794.19" y1="1870.5" x2="794.19" y2="1877.3"/><line x1="794.19" y1="1175.8" x2="794.19" y2="1182.6"/><line x1="840.2" y1="1870.5" x2="840.2" y2="1877.3"/><line x1="840.2" y1="1175.8" x2="840.2" y2="1182.6"/><line x1="872.84" y1="1870.5" x2="872.84" y2="1877.3"/><line x1="872.84" y1="1175.8" x2="872.84" y2="1182.6"/><line x1="898.16" y1="1870.5" x2="898.16" y2="1877.3"/><line x1="898.16" y1="1175.8" x2="898.16" y2="1182.6"/><line x1="918.84" y1="1870.5" x2="918.84" y2="1877.3"/><line x1="918.84" y1="1175.8" x2="918.84" y2="1182.6"/><line x1="936.33" y1="1870.5" x2="936.33" y2="1877.3"/><line x1="936.33" y1="1175.8" x2="936.33" y2="1182.6"/><line x1="951.48" y1="1870.5" x2="951.48" y2="1877.3"/><line x1="951.48" y1="1175.8" x2="951.48" y2="1182.6"/><line x1="964.85" y1="1870.5" x2="964.85" y2="1877.3"/><line x1="964.85" y1="1175.8" x2="964.85" y2="1182.6"/><line x1="976.8" y1="1870.5" x2="976.8" y2="1884.1"/><line x1="976.8" y1="1175.8" x2="976.8" y2="1189.4"/><line x1="1055.44" y1="1870.5" x2="1055.44" y2="1877.3"/><line x1="1055.44" y1="1175.8" x2="1055.44" y2="1182.6"/><line x1="1101.45" y1="1870.5" x2="1101.45" y2="1877.3"/><line x1="1101.45" y1="1175.8" x2="1101.45" y2="1182.6"/><line x1="1134.09" y1="1870.5" x2="1134.09" y2="1877.3"/><line x1="1134.09" y1="1175.8" x2="1134.09" y2="1182.6"/><line x1="1159.41" y1="1870.5" x2="1159.41" y2="1877.3"/><line x1="1159.41" y1="1175.8" x2="1159.41" y2="1182.6"/><line x1="1180.09" y1="1870.5" x2="1180.09" y2="1877.3"/><line x1="1180.09" y1="1175.8" x2="1180.09" y2="1182.6"/><line x1="1197.58" y1="1870.5" x2="1197.58" y2="1877.3"/><line x1="1197.58" y1="1175.8" x2="1197.58" y2="1182.6"/><line x1="1212.73" y1="1870.5" x2="1212.73" y2="1877.3"/><line x1="1212.73" y1="1175.8" x2="1212.73" y2="1182.6"/><line x1="1226.1" y1="1870.5" x2="1226.1" y2="1877.3"/><line x1="1226.1" y1="1175.8" x2="1226.1" y2="1182.6"/><line x1="1238.05" y1="1870.5" x2="1238.05" y2="1884.1"/><line x1="1238.05" y1="1175.8" x2="1238.05" y2="1189.4"/><line x1="1316.69" y1="1870.5" x2="1316.69" y2="1877.3"/><line x1="1316.69" y1="1175.8" x2="1316.69" y2="1182.6"/><line x1="1362.7" y1="1870.5" x2="1362.7" y2="1877.3"/><line x1="1362.7" y1="1175.8" x2="1362.7" y2="1182.6"/><line x1="1395.34" y1="1870.5" x2="1395.34" y2="1877.3"/><line x1="1395.34" y1="1175.8" x2="1395.34" y2="1182.6"/><line x1="1420.66" y1="1870.5" x2="1420.66" y2="1877.3"/><line x1="1420.66" y1="1175.8" x2="1420.66" y2="1182.6"/><line x1="1441.1" y1="1870.5" x2="1441.1" y2="1877.3"/><line x1="1441.1" y1="1175.8" x2="1441.1" y2="1182.6"/><line x1="565.9" y1="1870.5" x2="579.9" y2="1870.5"/><line x1="1427.1" y1="1870.5" x2="1441.1" y2="1870.5"/><line x1="572.9" y1="1818.22" x2="579.9" y2="1818.22"/><line x1="1434.1" y1="1818.22" x2="1441.1" y2="1818.22"/><line x1="572.9" y1="1787.64" x2="579.9" y2="1787.64"/><line x1="1434.1" y1="1787.64" x2="1441.1" y2="1787.64"/><line x1="572.9" y1="1765.94" x2="579.9" y2="1765.94"/><line x1="1434.1" y1="1765.94" x2="1441.1" y2="1765.94"/><line x1="572.9" y1="1749.11" x2="579.9" y2="1749.11"/><line x1="1434.1" y1="1749.11" x2="1441.1" y2="1749.11"/><line x1="572.9" y1="1735.35" x2="579.9" y2="1735.35"/><line x1="1434.1" y1="1735.35" x2="1441.1" y2="1735.35"/><line x1="572.9" y1="1723.73" x2="579.9" y2="1723.73"/><line x1="1434.1" y1="1723.73" x2="1441.1" y2="1723.73"/><line x1="572.9" y1="1713.66" x2="579.9" y2="1713.66"/><line x1="1434.1" y1="1713.66" x2="1441.1" y2="1713.66"/><line x1="572.9" y1="1704.77" x2="579.9" y2="1704.77"/><line x1="1434.1" y1="1704.77" x2="1441.1" y2="1704.77"/><line x1="565.9" y1="1696.83" x2="579.9" y2="1696.83"/><line x1="1427.1" y1="1696.83" x2="1441.1" y2="1696.83"/><line x1="572.9" y1="1644.54" x2="579.9" y2="1644.54"/><line x1="1434.1" y1="1644.54" x2="1441.1" y2="1644.54"/><line x1="572.9" y1="1613.96" x2="579.9" y2="1613.96"/><line x1="1434.1" y1="1613.96" x2="1441.1" y2="1613.96"/><line x1="572.9" y1="1592.26" x2="579.9" y2="1592.26"/><line x1="1434.1" y1="1592.26" x2="1441.1" y2="1592.26"/><line x1="572.9" y1="1575.43" x2="579.9" y2="1575.43"/><line x1="1434.1" y1="1575.43" x2="1441.1" y2="1575.43"/><line x1="572.9" y1="1561.68" x2="579.9" y2="1561.68"/><line x1="1434.1" y1="1561.68" x2="1441.1" y2="1561.68"/><line x1="572.9" y1="1550.05" x2="579.9" y2="1550.05"/><line x1="1434.1" y1="1550.05" x2="1441.1" y2="1550.05"/><line x1="572.9" y1="1539.98" x2="579.9" y2="1539.98"/><line x1="1434.1" y1="1539.98" x2="1441.1" y2="1539.98"/><line x1="572.9" y1="1531.1" x2="579.9" y2="1531.1"/><line x1="1434.1" y1="1531.1" x2="1441.1" y2="1531.1"/><line x1="565.9" y1="1523.15" x2="579.9" y2="1523.15"/><line x1="1427.1" y1="1523.15" x2="1441.1" y2="1523.15"/><line x1="572.9" y1="1470.87" x2="579.9" y2="1470.87"/><line x1="1434.1" y1="1470.87" x2="1441.1" y2="1470.87"/><line x1="572.9" y1="1440.29" x2="579.9" y2="1440.29"/><line x1="1434.1" y1="1440.29" x2="1441.1" y2="1440.29"/><line x1="572.9" y1="1418.59" x2="579.9" y2="1418.59"/><line x1="1434.1" y1="1418.59" x2="1441.1" y2="1418.59"/><line x1="572.9" y1="1401.76" x2="579.9" y2="1401.76"/><line x1="1434.1" y1="1401.76" x2="1441.1" y2="1401.76"/><line x1="572.9" y1="1388" x2="579.9" y2="1388"/><line x1="1434.1" y1="1388" x2="1441.1" y2="1388"/><line x1="572.9" y1="1376.38" x2="579.9" y2="1376.38"/><line x1="1434.1" y1="1376.38" x2="1441.1" y2="1376.38"/><line x1="572.9" y1="1366.31" x2="579.9" y2="1366.31"/><line x1="1434.1" y1="1366.31" x2="1441.1" y2="1366.31"/><line x1="572.9" y1="1357.42" x2="579.9" y2="1357.42"/><line x1="1434.1" y1="1357.42" x2="1441.1" y2="1357.42"/><line x1="565.9" y1="1349.47" x2="579.9" y2="1349.47"/><line x1="1427.1" y1="1349.47" x2="1441.1" y2="1349.47"/><line x1="572.9" y1="1297.19" x2="579.9" y2="1297.19"/><line x1="1434.1" y1="1297.19" x2="1441.1" y2="1297.19"/><line x1="572.9" y1="1266.61" x2="579.9" y2="1266.61"/><line x1="1434.1" y1="1266.61" x2="1441.1" y2="1266.61"/><line x1="572.9" y1="1244.91" x2="579.9" y2="1244.91"/><line x1="1434.1" y1="1244.91" x2="1441.1" y2="1244.91"/><line x1="572.9" y1="1228.08" x2="579.9" y2="1228.08"/><line x1="1434.1" y1="1228.08" x2="1441.1" y2="1228.08"/><line x1="572.9" y1="1214.33" x2="579.9" y2="1214.33"/><line x1="1434.1" y1="1214.33" x2="1441.1" y2="1214.33"/><line x1="572.9" y1="1202.7" x2="579.9" y2="1202.7"/><line x1="1434.1" y1="1202.7" x2="1441.1" y2="1202.7"/><line x1="572.9" y1="1192.63" x2="579.9" y2="1192.63"/><line x1="1434.1" y1="1192.63" x2="1441.1" y2="1192.63"/><line x1="572.9" y1="1183.75" x2="579.9" y2="1183.75"/><line x1="1434.1" y1="1183.75" x2="1441.1" y2="1183.75"/><line x1="565.9" y1="1175.8" x2="579.9" y2="1175.8"/><line x1="1427.1" y1="1175.8" x2="1441.1" y2="1175.8"/></g>
<text x="468.4" y="1187.9" font-size="41.21" textLength="88.1" lengthAdjust="spacingAndGlyphs">1000</text>
<text x="490.43" y="1361.57" font-size="41.21" textLength="66.07" lengthAdjust="spacingAndGlyphs">100</text>
<text x="512.45" y="1535.25" font-size="41.21" textLength="44.05" lengthAdjust="spacingAndGlyphs">10</text>
<text x="534.48" y="1708.92" font-size="41.21" textLength="22.02" lengthAdjust="spacingAndGlyphs">1</text>
<text x="501.45" y="1882.6" font-size="41.21" textLength="55.05" lengthAdjust="spacingAndGlyphs">0.1</text>
<text x="688.16" y="1924.5" font-size="41" textLength="54.77" lengthAdjust="spacingAndGlyphs">0.1</text>
<text x="965.84" y="1924.5" font-size="41" textLength="21.91" lengthAdjust="spacingAndGlyphs">1</text>
<text x="1216.14" y="1924.5" font-size="41" textLength="43.83" lengthAdjust="spacingAndGlyphs">10</text>
<text x="824" y="1402" font-size="41" textLength="140.51" lengthAdjust="spacingAndGlyphs">slope=1</text>
<text x="1081.3" y="1650.4" font-size="41" textLength="174.04" lengthAdjust="spacingAndGlyphs">slope=0.5</text>
<text x="705.93" y="2004.3" font-size="57.4" textLength="610.53" lengthAdjust="spacingAndGlyphs" fill="#000">Brine Conductivity (S/m)</text>
<text transform="translate(455.6 1895.1) rotate(-90)" x="-2.82" y="0" font-size="58" textLength="750.2" lengthAdjust="spacingAndGlyphs" fill="#000">Characteristic Frequency (Hz)</text>
</g>
</svg>
</body></html>
